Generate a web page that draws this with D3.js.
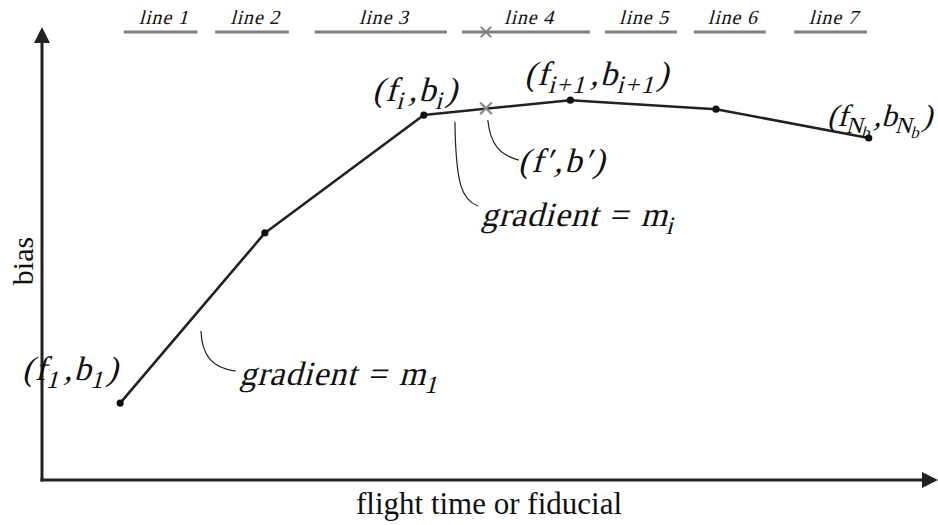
<!DOCTYPE html>
<html>
<head>
<meta charset="utf-8">
<script src="https://cdn.jsdelivr.net/npm/d3@7"></script>
<style>
  html, body { margin: 0; padding: 0; background: #fff; }
  svg { display: block; }
  text { font-family: "Liberation Serif", "DejaVu Serif", serif; fill: #111; font-style: normal; }
</style>
</head>
<body>
<svg id="chart" width="938" height="525"></svg>
<script>
// Breakpoints of the piecewise-linear bias model (flight time vs bias)
const breakF = [8.8, 25.1, 43.0, 59.5, 75.9, 93.1];
const breakB = [17.1, 54.9, 81.1, 84.4, 82.4, 76.0];

// Interpolated sample (f', b') on segment i
const sampleF = [50.0];
const sampleB = [82.6];

// Flight lines shown along the top
const lineNames = ["line 1", "line 2", "line 3", "line 4", "line 5", "line 6", "line 7"];
const lineStart = [9.2, 19.5, 30.7, 47.3, 63.4, 73.4, 84.7];
const lineEnd   = [17.5, 27.8, 45.6, 61.7, 71.5, 81.5, 92.9];

const xLabel = "flight time or fiducial";
const yLabel = "bias";

const svg = d3.select("#chart");

const x = d3.scaleLinear().domain([0, 100]).range([42, 930]);
const y = d3.scaleLinear().domain([0, 100]).range([480, 30]);

const axisColor = "#222";
const SLANT = -15;   // slant applied to the serif face for math-italic text

// ---- axes with arrowheads ----
svg.append("line")
  .attr("x1", x(0)).attr("y1", y(0) + 1.5)
  .attr("x2", x(0)).attr("y2", 40)
  .attr("stroke", axisColor).attr("stroke-width", 3);
svg.append("line")
  .attr("x1", x(0) - 1.5).attr("y1", y(0))
  .attr("x2", 924).attr("y2", y(0))
  .attr("stroke", axisColor).attr("stroke-width", 3);

svg.append("path")
  .attr("d", `M${x(0)},27 L${x(0) - 8},43 L${x(0) + 8},43 Z`)
  .attr("fill", axisColor);
svg.append("path")
  .attr("d", `M938,${y(0)} L922,${y(0) - 8} L922,${y(0) + 8} Z`)
  .attr("fill", axisColor);

// axis titles
svg.append("text")
  .attr("x", 489).attr("y", 514)
  .attr("text-anchor", "middle")
  .style("font-size", "31px")
  .text(xLabel);
svg.append("text")
  .attr("transform", `translate(33,261) rotate(-90)`)
  .attr("text-anchor", "middle")
  .style("font-size", "30px")
  .text(yLabel);

// slanted serif text anchored at a baseline point
function slanted(px, py) {
  return svg.append("g")
    .attr("transform", `translate(${px},${py}) skewX(${SLANT})`)
    .append("text").attr("x", 0).attr("y", 0);
}

// ---- flight line bars along the top ----
const topY = 32;
lineNames.forEach((name, i) => {
  svg.append("line")
    .attr("x1", x(lineStart[i])).attr("x2", x(lineEnd[i]))
    .attr("y1", topY).attr("y2", topY)
    .attr("stroke", "#7f7f7f").attr("stroke-width", 3);
  slanted((x(lineStart[i]) + x(lineEnd[i])) / 2 + 3, 24)
    .attr("text-anchor", "middle")
    .style("font-size", "20px")
    .style("letter-spacing", "0.8px")
    .text(name);
});

// cross on line 4 at the sample's flight time
svg.append("path")
  .attr("d", d3.symbol(d3.symbolX, 70)())
  .attr("transform", `translate(${x(sampleF[0])},${topY})`)
  .attr("fill", "none").attr("stroke", "#7f7f7f").attr("stroke-width", 2);

// ---- piecewise-linear bias curve ----
const pts = breakF.map((f, i) => [f, breakB[i]]);
svg.append("path")
  .datum(pts)
  .attr("d", d3.line().x(d => x(d[0])).y(d => y(d[1])))
  .attr("fill", "none")
  .attr("stroke", "#222")
  .attr("stroke-width", 2.6)
  .attr("stroke-linejoin", "round");

svg.selectAll("circle.bp")
  .data(pts)
  .join("circle")
  .attr("class", "bp")
  .attr("cx", d => x(d[0])).attr("cy", d => y(d[1]))
  .attr("r", 3.6)
  .attr("fill", "#111");

// interpolated sample marker
svg.append("path")
  .attr("d", d3.symbol(d3.symbolX, 90)())
  .attr("transform", `translate(${x(sampleF[0])},${y(sampleB[0])})`)
  .attr("fill", "none").attr("stroke", "#8a8a8a").attr("stroke-width", 2.2);

// ---- annotation leaders (thin curves) ----
const leaders = [
  [[17.9, 33.1], [18.0, 27.8], [19.1, 24.9], [21.8, 24.2]],
  [[46.5, 79.6], [46.6, 65.6], [47.3, 62.2], [49.1, 60.9]],
  [[50.2, 80.0], [50.5, 74.4], [51.6, 72.2], [53.7, 71.1]]
];
leaders.forEach(c => {
  const p = d3.path();
  p.moveTo(x(c[0][0]), y(c[0][1]));
  p.bezierCurveTo(x(c[1][0]), y(c[1][1]), x(c[2][0]), y(c[2][1]), x(c[3][0]), y(c[3][1]));
  svg.append("path").attr("d", p.toString())
    .attr("fill", "none").attr("stroke", "#222").attr("stroke-width", 1.2);
});

// ---- math-style labels with subscripts ----
// parts: [text, level (0 base, 1 sub, 2 sub-sub), extra dx]
function mathLabel(px, py, parts, size, spacing) {
  const offs = [0, 0.24 * size, 0.38 * size];
  const sizes = [size, size * 0.74, size * 0.54];
  const t = slanted(px, py)
    .style("font-size", size + "px")
    .style("letter-spacing", spacing + "px");
  let level = 0;
  parts.forEach(([s, lvl, dx]) => {
    const ts = t.append("tspan")
      .attr("dy", offs[lvl] - offs[level])
      .style("font-size", sizes[lvl] + "px")
      .text(s);
    if (dx) ts.attr("dx", dx);
    level = lvl;
  });
  return t;
}

const S = 34;
mathLabel(x(-2.25), y(22.2), [["(f", 0], ["1", 1], [",b", 0, 2], ["1", 1], [")", 0]], S, 1.5);
mathLabel(x(37.2), y(84.2), [["(f", 0], ["i", 1], [",b", 0, 2], ["i", 1], [")", 0]], S, 1.5);
mathLabel(x(54.3), y(87.8), [["(f", 0], ["i+1", 1], [",b", 0, 2], ["i+1", 1], [")", 0]], S, 1.5);
mathLabel(x(88.4), y(78.7), [["(f", 0], ["N", 1], ["b", 2], [",b", 0, 1], ["N", 1], ["b", 2], [")", 0]], 31, 0);
mathLabel(x(53.6), y(68.4), [["(f\u2032,b\u2032)", 0]], S, 2);
mathLabel(x(22.2), y(21.1), [["gradient", 0], ["=", 0, 10], ["m", 0, 12], ["1", 1]], S, 0.8);
mathLabel(x(49.4), y(56.4), [["gradient", 0], ["=", 0, 10], ["m", 0, 12], ["i", 1]], S, 0.8);
</script>
</body>
</html>
